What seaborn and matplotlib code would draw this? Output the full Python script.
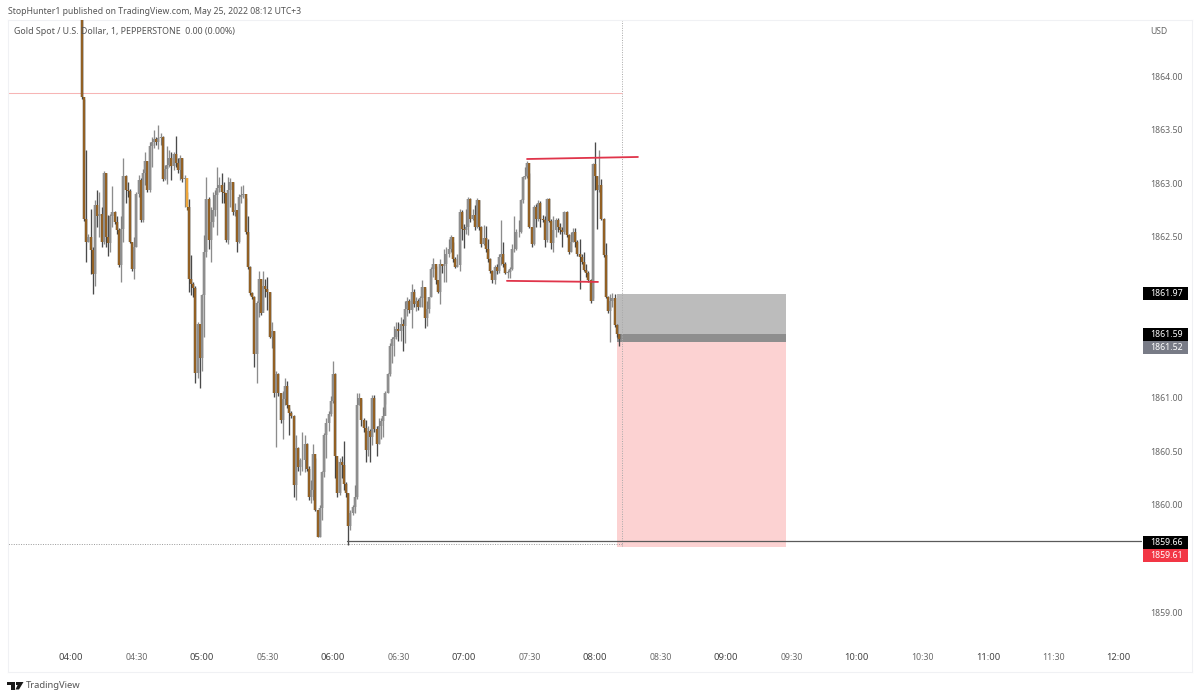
import numpy as np
import pandas as pd
import seaborn as sns
import matplotlib.pyplot as plt
from matplotlib.patches import Rectangle, Polygon

# prices, one candle per minute starting 04:05
first_open = 1865.20
closes = [
    1863.80, 1862.67, 1862.45, 1862.50, 1862.38, 1862.15, 1862.80, 1862.69, 1862.71, 1862.45,
    1863.10, 1862.50, 1862.44, 1862.69, 1862.73, 1862.64, 1862.56, 1862.24, 1862.57, 1863.07,
    1862.94, 1862.93, 1862.45, 1862.20, 1862.41, 1862.90, 1863.03, 1862.66, 1863.10, 1863.21,
    1862.94, 1863.35, 1863.38, 1863.41, 1863.38, 1863.42, 1863.43, 1863.04, 1863.13, 1863.17,
    1863.24, 1863.16, 1863.27, 1863.19, 1863.12, 1863.24, 1863.04, 1863.05, 1862.78, 1862.11,
    1862.06, 1862.02, 1861.23, 1861.69, 1861.37, 1861.96, 1862.36, 1862.85, 1862.47, 1862.64,
    1862.75, 1862.89, 1862.96, 1862.98, 1862.92, 1862.91, 1862.47, 1862.94, 1863.01, 1862.73,
    1862.75, 1862.45, 1862.87, 1862.89, 1862.90, 1862.55, 1862.22, 1861.98, 1861.94, 1861.41,
    1861.88, 1862.11, 1861.79, 1862.04, 1862.01, 1861.99, 1861.57, 1861.62, 1861.04, 1861.22,
    1861.04, 1860.79, 1860.99, 1861.11, 1860.93, 1860.86, 1860.83, 1860.19, 1860.53, 1860.35,
    1860.42, 1860.42, 1860.57, 1860.34, 1860.07, 1860.14, 1860.48, 1859.95, 1859.70, 1859.97,
    1860.31, 1860.65, 1860.76, 1860.85, 1860.97, 1861.22, 1860.46, 1860.11, 1860.40, 1860.37,
    1860.20, 1860.11, 1859.80, 1859.93, 1859.98, 1860.07, 1860.93, 1861.00, 1860.79, 1860.72,
    1860.51, 1860.69, 1860.63, 1861.00, 1860.71, 1860.57, 1860.74, 1860.78, 1860.83, 1861.04,
    1861.22, 1861.48, 1861.55, 1861.57, 1861.64, 1861.62, 1861.69, 1861.67, 1861.83, 1861.90,
    1861.82, 1861.99, 1861.87, 1861.90, 1861.85, 1861.93, 1862.03, 1861.74, 1861.83, 1861.94,
    1862.20, 1862.25, 1862.10, 1861.99, 1862.25, 1862.23, 1862.25, 1862.34, 1862.39, 1862.50,
    1862.29, 1862.22, 1862.24, 1862.73, 1862.57, 1862.56, 1862.59, 1862.85, 1862.67, 1862.70,
    1862.59, 1862.84, 1862.59, 1862.43, 1862.49, 1862.39, 1862.29, 1862.18, 1862.10, 1862.22,
    1862.18, 1862.31, 1862.34, 1862.25, 1862.16, 1862.17, 1862.20, 1862.39, 1862.39, 1862.55,
    1862.55, 1862.84, 1863.06, 1863.07, 1863.19, 1862.59, 1862.43, 1862.78, 1862.67, 1862.82,
    1862.67, 1862.66, 1862.47, 1862.85, 1862.65, 1862.44, 1862.56, 1862.66, 1862.59, 1862.56,
    1862.55, 1862.73, 1862.52, 1862.36, 1862.45, 1862.55, 1862.45, 1862.34, 1862.31, 1862.27,
    1862.19, 1862.16, 1862.10, 1861.90, 1863.18, 1863.07, 1862.94, 1862.98, 1862.67, 1862.33,
    1861.94, 1861.81, 1861.90, 1861.93, 1861.68, 1861.59, 1861.55,
]
highs = [
    1865.20, 1863.79, 1863.31, 1862.53, 1862.76, 1862.41, 1862.84, 1862.94, 1862.92, 1862.78,
    1863.11, 1863.10, 1862.70, 1862.71, 1862.97, 1862.74, 1862.69, 1862.58, 1862.69, 1863.24,
    1863.08, 1863.01, 1862.95, 1862.44, 1862.50, 1862.92, 1863.08, 1863.05, 1863.13, 1863.29,
    1863.21, 1863.38, 1863.43, 1863.50, 1863.43, 1863.54, 1863.47, 1863.44, 1863.17, 1863.35,
    1863.31, 1863.29, 1863.29, 1863.44, 1863.24, 1863.26, 1863.24, 1863.08, 1862.92, 1862.85,
    1862.33, 1862.08, 1862.04, 1861.71, 1861.68, 1861.97, 1862.52, 1863.06, 1862.87, 1862.78,
    1862.92, 1862.94, 1863.15, 1863.06, 1863.10, 1863.01, 1862.90, 1863.06, 1863.05, 1863.01,
    1862.82, 1862.74, 1862.90, 1862.97, 1862.98, 1862.86, 1862.69, 1862.23, 1861.99, 1861.95,
    1861.90, 1862.18, 1862.11, 1862.18, 1862.11, 1862.13, 1861.99, 1861.71, 1861.62, 1861.25,
    1861.23, 1861.04, 1861.06, 1861.18, 1861.16, 1860.90, 1860.88, 1860.84, 1860.65, 1860.54,
    1860.44, 1860.68, 1860.65, 1860.58, 1860.36, 1860.23, 1860.57, 1860.44, 1859.95, 1860.00,
    1860.32, 1860.67, 1860.81, 1860.88, 1861.02, 1861.34, 1861.23, 1860.42, 1860.44, 1860.46,
    1860.60, 1860.21, 1860.11, 1859.95, 1860.00, 1860.19, 1861.04, 1861.04, 1860.99, 1860.81,
    1860.79, 1860.74, 1860.71, 1861.03, 1861.03, 1860.74, 1860.81, 1860.81, 1860.91, 1861.06,
    1861.23, 1861.51, 1861.57, 1861.67, 1861.71, 1861.71, 1861.75, 1861.73, 1861.90, 1861.94,
    1861.92, 1862.06, 1862.01, 1861.94, 1861.92, 1861.95, 1862.10, 1862.02, 1861.90, 1861.94,
    1862.22, 1862.30, 1862.23, 1862.06, 1862.29, 1862.25, 1862.39, 1862.41, 1862.48, 1862.52,
    1862.45, 1862.31, 1862.34, 1862.76, 1862.75, 1862.62, 1862.76, 1862.87, 1862.86, 1862.76,
    1862.80, 1862.86, 1862.84, 1862.60, 1862.61, 1862.60, 1862.48, 1862.30, 1862.19, 1862.24,
    1862.25, 1862.34, 1862.66, 1862.45, 1862.27, 1862.19, 1862.22, 1862.43, 1862.69, 1862.57,
    1862.66, 1862.85, 1863.07, 1863.15, 1863.21, 1863.10, 1862.59, 1862.80, 1862.81, 1862.84,
    1862.83, 1862.70, 1862.69, 1862.86, 1862.86, 1862.67, 1862.69, 1862.68, 1862.68, 1862.63,
    1862.59, 1862.74, 1862.74, 1862.53, 1862.55, 1862.58, 1862.58, 1862.47, 1862.48, 1862.34,
    1862.36, 1862.25, 1862.18, 1862.11, 1863.19, 1863.38, 1863.07, 1863.31, 1863.04, 1862.68,
    1862.44, 1861.95, 1861.97, 1861.98, 1861.97, 1861.69, 1861.59,
]
lows = [
    1863.79, 1862.65, 1862.27, 1862.45, 1862.15, 1861.97, 1862.04, 1862.59, 1862.50, 1862.41,
    1862.43, 1862.41, 1862.32, 1862.36, 1862.59, 1862.62, 1862.53, 1862.22, 1862.08, 1862.45,
    1862.82, 1862.87, 1862.44, 1862.18, 1862.11, 1862.41, 1862.87, 1862.64, 1862.64, 1862.98,
    1862.92, 1862.92, 1863.15, 1863.33, 1863.36, 1863.32, 1863.36, 1863.02, 1863.03, 1862.99,
    1863.15, 1863.03, 1863.12, 1863.15, 1863.10, 1863.03, 1863.01, 1862.78, 1862.75, 1861.99,
    1861.96, 1861.94, 1861.14, 1861.18, 1861.09, 1861.25, 1861.57, 1862.31, 1862.39, 1862.27,
    1862.59, 1862.69, 1862.52, 1862.92, 1862.82, 1862.82, 1862.45, 1862.43, 1862.78, 1862.70,
    1862.69, 1862.36, 1862.44, 1862.82, 1862.86, 1862.53, 1862.20, 1861.96, 1861.92, 1861.29,
    1861.14, 1861.75, 1861.77, 1861.82, 1861.94, 1861.82, 1861.56, 1861.46, 1861.01, 1860.54,
    1861.02, 1860.76, 1860.62, 1860.93, 1860.90, 1860.65, 1860.81, 1860.07, 1860.05, 1860.32,
    1860.28, 1860.32, 1860.31, 1860.32, 1860.05, 1860.02, 1860.05, 1859.94, 1859.70, 1859.70,
    1859.86, 1860.26, 1860.44, 1860.69, 1860.83, 1860.95, 1860.25, 1860.07, 1860.09, 1860.25,
    1860.14, 1860.07, 1859.63, 1859.77, 1859.91, 1859.93, 1860.06, 1860.93, 1860.74, 1860.68,
    1860.40, 1860.46, 1860.40, 1860.56, 1860.68, 1860.46, 1860.57, 1860.62, 1860.63, 1860.94,
    1861.04, 1861.20, 1861.32, 1861.39, 1861.55, 1861.53, 1861.53, 1861.44, 1861.51, 1861.76,
    1861.79, 1861.65, 1861.85, 1861.81, 1861.82, 1861.85, 1861.85, 1861.65, 1861.67, 1861.79,
    1861.94, 1862.13, 1862.06, 1861.98, 1861.87, 1862.16, 1862.08, 1862.08, 1862.31, 1862.36,
    1862.27, 1862.21, 1862.22, 1862.18, 1862.47, 1862.40, 1862.53, 1862.52, 1862.64, 1862.66,
    1862.56, 1862.58, 1862.56, 1862.41, 1862.42, 1862.36, 1862.27, 1862.16, 1862.07, 1862.06,
    1862.15, 1862.16, 1862.24, 1862.22, 1862.15, 1862.12, 1862.12, 1862.19, 1862.36, 1862.38,
    1862.50, 1862.54, 1862.82, 1863.04, 1863.05, 1862.58, 1862.41, 1862.42, 1862.59, 1862.65,
    1862.59, 1862.64, 1862.41, 1862.45, 1862.64, 1862.39, 1862.36, 1862.50, 1862.55, 1862.53,
    1862.41, 1862.53, 1862.50, 1862.34, 1862.36, 1862.45, 1862.41, 1862.32, 1862.01, 1862.25,
    1862.18, 1862.13, 1862.08, 1861.88, 1861.93, 1862.94, 1862.57, 1862.92, 1862.66, 1862.31,
    1861.93, 1861.79, 1861.52, 1861.85, 1861.66, 1861.57, 1861.48,
]
bright_candle = 48

time_labels = ["04:00", "04:30", "05:00", "05:30", "06:00", "06:30", "07:00", "07:30", "08:00",
               "08:30", "09:00", "09:30", "10:00", "10:30", "11:00", "11:30", "12:00"]
price_ticks = [1859.0, 1859.5, 1860.0, 1860.5, 1861.0, 1861.5, 1862.0, 1862.5, 1863.0, 1863.5, 1864.0]

# position tool levels, in price
stop_top, entry_a, entry_b, target_low = 1861.97, 1861.59, 1861.52, 1859.61
pos_start, pos_end = 250.1, 327.5
low_level = 1859.66

W, H = 1200, 699


def fx(px):
    return px / W


def fy(py):
    return 1 - py / H


sns.set_theme(style="white")
plt.rcParams['font.family'] = ['Noto Sans', 'DejaVu Sans']

fig = plt.figure(figsize=(W / 100, H / 100), dpi=100)
ax = fig.add_axes([fx(8), fy(672), fx(1192 - 8), (672 - 20) / H])

# build candle tables
opens = [first_open] + closes[:-1]
df = pd.DataFrame({"minute": np.arange(5, 5 + len(closes)), "open": opens, "close": closes,
                   "high": highs, "low": lows})
df["kind"] = np.where(df["close"] >= df["open"], "up", "down")
df.loc[bright_candle, "kind"] = "bright"

wicks = df.melt(id_vars=["minute", "kind"], value_vars=["high", "low"], value_name="price")
bodies = df.melt(id_vars=["minute", "kind"], value_vars=["open", "close"], value_name="price")

# position tool
ax.fill_between([pos_start, pos_end], target_low, entry_b, color="#fcd2d2", lw=0, zorder=1)
ax.fill_between([pos_start, pos_end], entry_a, stop_top, color="#bcbcbc", lw=0, zorder=1)
ax.fill_between([pos_start, pos_end], entry_b, entry_a, color="#8e8e8e", lw=0, zorder=1)

# crosshair and faint levels
ax.plot([-30, 252.5], [1859.64, 1859.64], color="#9a9a9a", lw=0.7, ls=(0, (1, 1.5)), zorder=2)
ax.plot([252.5, 252.5], [1859.62, 1865], color="#a8a8a8", lw=0.7, ls=(0, (1, 1.5)), zorder=2)
ax.hlines(1863.84, -30, 252.5, colors="#f7b5b5", lw=0.75, zorder=2)

sns.lineplot(data=wicks, x="minute", y="price", units="minute", hue="kind", estimator=None,
             palette={"up": "#8c8c8c", "down": "#4a4a4a", "bright": "#8a6a30"},
             lw=0.95, legend=False, ax=ax, zorder=3, solid_capstyle="butt")
sns.lineplot(data=bodies, x="minute", y="price", units="minute", hue="kind", estimator=None,
             palette={"up": "#555555", "down": "#3a2a12", "bright": "#b07a20"},
             lw=1.75, legend=False, ax=ax, zorder=4, solid_capstyle="butt")
sns.lineplot(data=bodies, x="minute", y="price", units="minute", hue="kind", estimator=None,
             palette={"up": "#9a9a9a", "down": "#a46c28", "bright": "#fbb040"},
             lw=1.2, legend=False, ax=ax, zorder=5, solid_capstyle="butt")

# drawn lines
ax.plot([208.9, 259.7], [1863.226, 1863.245], color="#e0344a", lw=1.3, zorder=6)
ax.plot([199.7, 241.4], [1862.09, 1862.08], color="#e0344a", lw=1.3, zorder=6)
ax.plot([126.4, 490], [low_level, low_level], color="#5a5a5a", lw=0.9, zorder=6)

ax.set_xlim((8 - 71) / 2.183, (1192 - 71) / 2.183)
ax.set_ylim(1860 - (672 - 505) / 107.25, 1860 + (505 - 20) / 107.25)
ax.set_xlabel("")
ax.set_ylabel("")

ax.set_xticks(np.arange(len(time_labels)) * 30, time_labels)
ax.set_yticks(price_ticks, [f"{p:.2f}" for p in price_ticks])
ax.yaxis.tick_right()
ax.tick_params(axis="x", length=0, pad=-14, labelsize=6.3, labelcolor="#6a6a6a")
ax.tick_params(axis="y", length=0, pad=-30, labelsize=6.3, labelcolor="#666666")
for i, lab in enumerate(ax.get_xticklabels()):
    if i % 2 == 0:
        lab.set_color("#444444")
        lab.set_fontsize(6.8)

for s in ax.spines.values():
    s.set_color("#f0f1f4")
    s.set_linewidth(0.8)

# header text
fig.text(fx(8), fy(11), "StopHunter1 published on TradingView.com, May 25, 2022 08:12 UTC+3",
         fontsize=6.25, color="#555555", va="center", ha="left")
fig.text(fx(14), fy(32), "Gold Spot / U.S. Dollar, 1, PEPPERSTONE  0.00 (0.00%)",
         fontsize=6.4, color="#555555", va="center", ha="left", zorder=10)
fig.text(fx(1150), fy(31), "USD", fontsize=6.2, color="#666666", va="center", ha="left")

# price badges on the right
badge_text = ["1861.97", "1861.59", "1861.52", "1859.66", "1859.61"]
badge_tops = [287, 328, 341, 536, 549]
badge_bg = ["#000000", "#000000", "#787b86", "#000000", "#f23645"]
for txt, top, bg in zip(badge_text, badge_tops, badge_bg):
    fig.add_artist(Rectangle((fx(1143), fy(top + 13)), fx(45), 13 / H, color=bg, lw=0, zorder=8))
    fig.text(fx(1183), fy(top + 6.5), txt, color="white", fontsize=6.3, va="center", ha="right", zorder=9)

# TradingView logo and name
logo = "#1a1a1a"
fig.add_artist(Rectangle((fx(7), fy(685)), fx(8), 3 / H, color=logo, lw=0, zorder=8))
fig.add_artist(Rectangle((fx(11), fy(689.5)), fx(4), 7 / H, color=logo, lw=0, zorder=8))
fig.add_artist(Polygon([(fx(19), fy(682)), (fx(23.5), fy(682)), (fx(19), fy(689.5)), (fx(15.5), fy(689.5))],
                       closed=True, color=logo, lw=0, zorder=8))
fig.add_artist(Rectangle((fx(16), fy(684.5)), fx(2.5), 2.5 / H, color=logo, lw=0, zorder=8))
fig.text(fx(26), fy(685), "TradingView", fontsize=6.8, color="#555555", va="center", ha="left")

fig.savefig("out.png", dpi=100)
